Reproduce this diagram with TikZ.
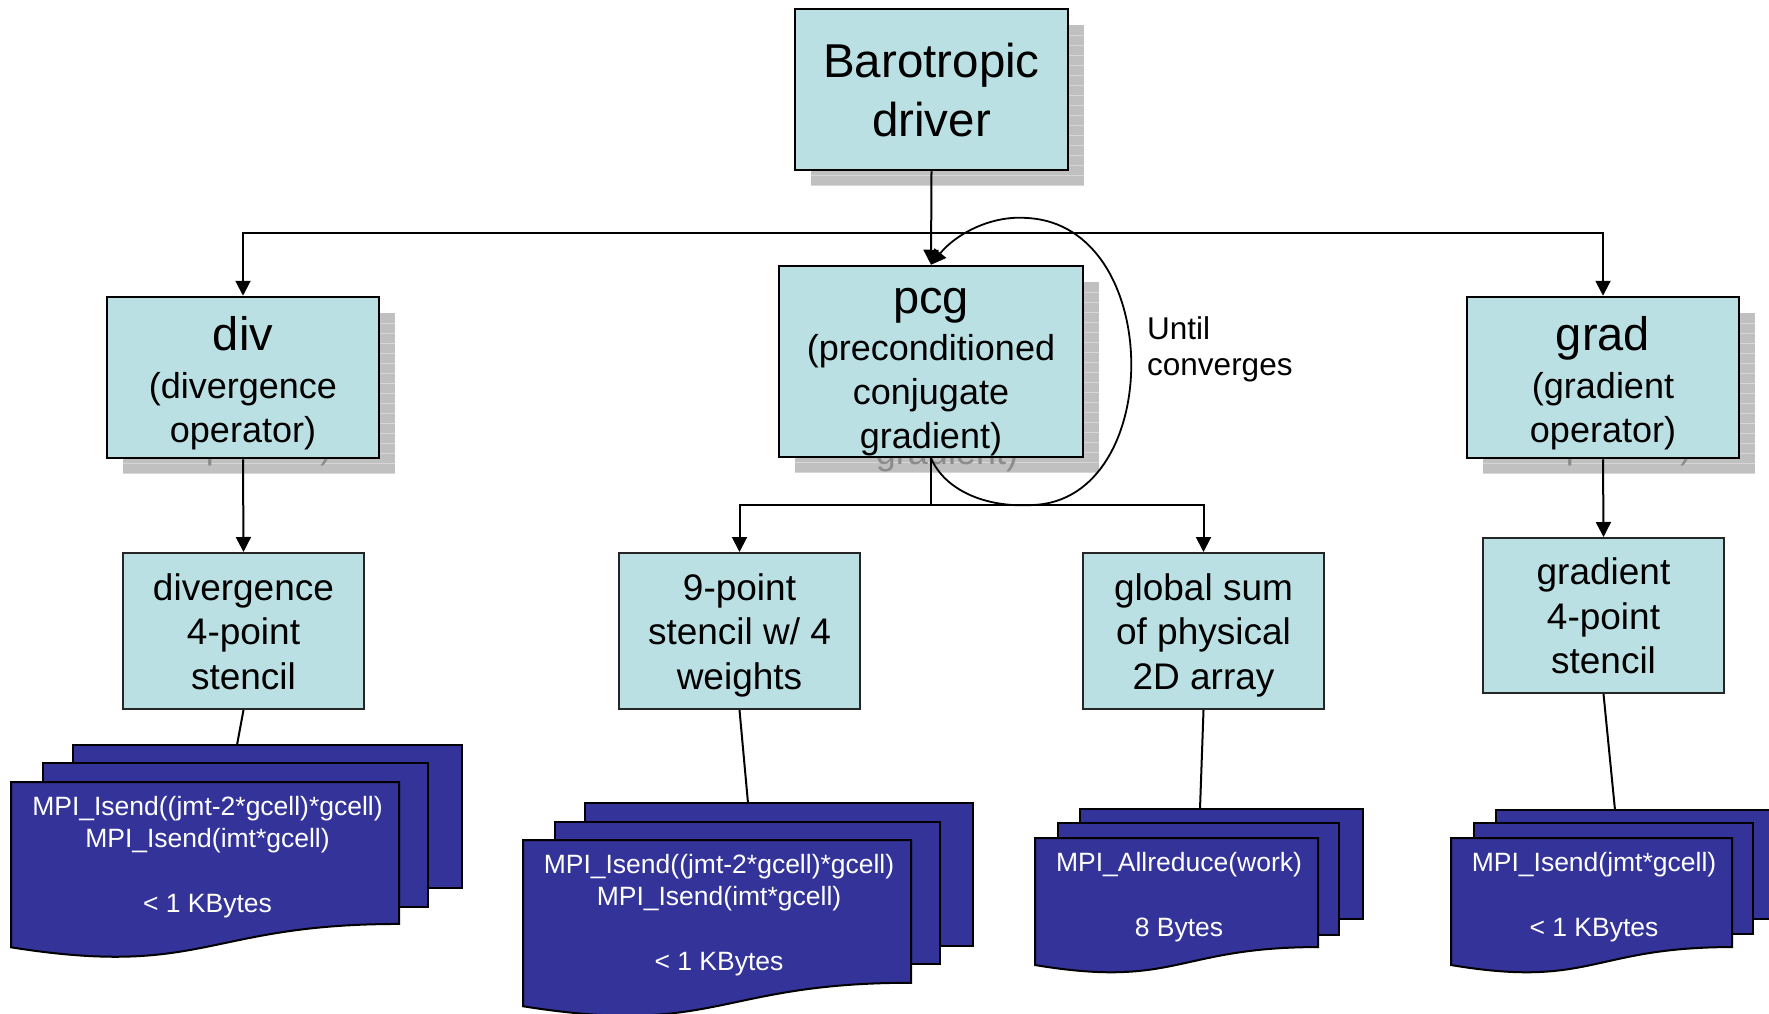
\documentclass[tikz,border=0pt]{standalone}
\usepackage{fontspec}
\setmainfont{Liberation Sans}
\usetikzlibrary{arrows.meta,calc}
\definecolor{boxfill}{RGB}{187,224,227}
\definecolor{docblue}{RGB}{51,51,153}
\definecolor{shadowgray}{RGB}{192,192,192}
\definecolor{shadowline}{RGB}{214,214,214}
\definecolor{ghost}{RGB}{140,140,140}
\newcommand{\mytop}[1]{\rule{0pt}{#1pt}}
\newcommand{\mybot}{\rule[-8pt]{0pt}{8pt}}
% front document shape: left, top, width, height
\newcommand{\frontdoc}[4]{%
  \draw[docst] (#1,#2) -- ({#1+#3},#2) -- ({#1+#3},{#2+0.802*#4})
    .. controls ({#1+#3/2},{#2+0.802*#4}) and ({#1+#3/2},{#2+1.1075*#4}) ..
    (#1,{#2+0.934*#4}) -- cycle;}
\begin{document}
\begin{tikzpicture}[x=1pt,y=-1pt,
  conn/.style={draw=black, line width=2pt},
  arr/.style={conn, -{Triangle[length=15pt,width=15pt]}},
  titlebox/.style={draw=black, line width=2.5pt, fill=boxfill, inner sep=0pt,
    align=center, font=\fontsize{36}{44}\selectfont},
  shadowbox/.style={titlebox, draw=none, fill=shadowgray, text=ghost,
    path picture={\foreach \k in {1,...,19}{
      \draw[shadowline, line width=0.8pt]
        ([yshift=-\k*10pt]path picture bounding box.north west) --
        ([yshift=-\k*10pt]path picture bounding box.north east);}}},
  stbox/.style={draw=black!85, line width=2pt, fill=boxfill, inner sep=0pt,
    align=center, minimum width=241pt, minimum height=156pt,
    font=\fontsize{37}{44.5}\selectfont},
  docst/.style={draw=black, line width=2pt, fill=docblue},
  doctext/.style={anchor=north, inner sep=0pt, align=center, text=white,
    font=\fontsize{26.5}{32.5}\selectfont}]
\useasboundingbox (0,0) rectangle (1769,1014);

% ---- shadows ----
\node[shadowbox, minimum width=273pt, minimum height=161pt,
  font=\fontsize{47.5}{59}\selectfont] (barS) at (947.5,105.5)
  {\mytop{44}Barotropic\\driver\mybot};
\node[shadowbox, minimum width=272pt, minimum height=161pt] (divS) at (259,393.5)
  {\mytop{45}{\fontsize{47}{47}\selectfont div}\\[4pt](divergence\\operator)\mybot};
\node[shadowbox, minimum width=304pt, minimum height=191pt] (pcgS) at (947,377.5)
  {\mytop{46}{\fontsize{47}{47}\selectfont pcg}\\[3pt](preconditioned\\conjugate\\gradient)\mybot};
\node[shadowbox, minimum width=272pt, minimum height=161pt] (gradS) at (1619,393.5)
  {\mytop{45}{\fontsize{47}{47}\selectfont grad}\\[4pt](gradient\\operator)\mybot};

% ---- main boxes ----
\node[titlebox, minimum width=273pt, minimum height=161pt,
  font=\fontsize{47.5}{59}\selectfont] (bar) at (931.5,89.5)
  {\mytop{44}Barotropic\\driver\mybot};
\node[titlebox, minimum width=272pt, minimum height=161pt] (div) at (243,377.5)
  {\mytop{45}{\fontsize{47}{47}\selectfont div}\\[4pt](divergence\\operator)\mybot};
\node[titlebox, minimum width=304pt, minimum height=191pt] (pcg) at (931,361.5)
  {\mytop{46}{\fontsize{47}{47}\selectfont pcg}\\[3pt](preconditioned\\conjugate\\gradient)\mybot};
\node[titlebox, minimum width=272pt, minimum height=161pt] (grad) at (1603,377.5)
  {\mytop{45}{\fontsize{47}{47}\selectfont grad}\\[4pt](gradient\\operator)\mybot};

% ---- stencil boxes ----
\node[stbox] (divst) at (243.5,631) {\mytop{35}divergence\\4-point\\stencil\mybot};
\node[stbox] (nine) at (739.5,631) {\mytop{35}9-point\\stencil w/ 4\\weights\mybot};
\node[stbox] (glob) at (1203.5,631) {\mytop{35}global sum\\of physical\\2D array\mybot};
\node[stbox, minimum height=155pt] (gradst) at (1603.5,615.5) {\mytop{35}gradient\\4-point\\stencil\mybot};

% ---- message stacks ----
% left
\draw[docst] (73,745) rectangle (462,888);
\draw[docst] (43,763) rectangle (428,907);
\frontdoc{11}{782}{388}{177}
\node[doctext] (msgdiv) at (207.5,795)
  {\mytop{20}MPI\_Isend((jmt-2*gcell)*gcell)\\MPI\_Isend(imt*gcell)\\[32.5pt]< 1 KBytes};
% middle
\draw[docst] (585,803) rectangle (973,946);
\draw[docst] (555,822) rectangle (940,964);
\frontdoc{523}{840}{388}{178}
\node[doctext] (msgnine) at (719,853)
  {\mytop{20}MPI\_Isend((jmt-2*gcell)*gcell)\\MPI\_Isend(imt*gcell)\\[32.5pt]< 1 KBytes};
% global sum
\draw[docst] (1080,809) rectangle (1363,919);
\draw[docst] (1058,823) rectangle (1339,935);
\frontdoc{1035}{838}{283}{136}
\node[doctext] (msgglob) at (1179,851)
  {\mytop{20}MPI\_Allreduce(work)\\[32.5pt]8 Bytes};
% right
\draw[docst] (1496,810) rectangle (1777,919);
\draw[docst] (1474,823) rectangle (1753,934);
\frontdoc{1451}{838}{281}{136}
\node[doctext] (msggrad) at (1594,851)
  {\mytop{20}MPI\_Isend(jmt*gcell)\\[32.5pt]< 1 KBytes};

\coordinate (stackA) at (237,745);
\coordinate (stackB) at (748,803);
\coordinate (stackC) at (1200,809);
\coordinate (stackD) at (1615,810);

% ---- connectors ----
\coordinate (hub) at (931.5,233);
\coordinate (hubB) at (931,505);
\draw[arr] (bar.south) -- (pcg.north);
\draw[arr] (hub) -| (div.north);
\draw[arr] (hub) -| (grad.north);
\draw[conn] (pcg.south) -- (hubB);
\draw[arr] (hubB) -| (nine.north);
\draw[arr] (hubB) -| (glob.north);
\draw[arr] (div.south) -- (divst.north);
\draw[arr] (grad.south) -- (gradst.north);
\draw[conn] (divst.south) -- (stackA);
\draw[conn] (nine.south) -- (stackB);
\draw[conn] (glob.south) -- (stackC);
\draw[conn] (gradst.south) -- (stackD);

% ---- iteration loop ----
\draw[arr, line width=1.8pt] (pcg.south)
  .. controls (945,490) and (985,508) .. (1033,505)
  .. controls (1165,500) and (1165,225) .. (1027,218)
  .. controls (990,215) and (955,235) .. (pcg.north);
\node[anchor=north west, inner sep=0pt, align=left,
  font=\fontsize{31.5}{36.5}\selectfont] (until) at (1147,316)
  {\mytop{23}Until\\converges};
\end{tikzpicture}
\end{document}
